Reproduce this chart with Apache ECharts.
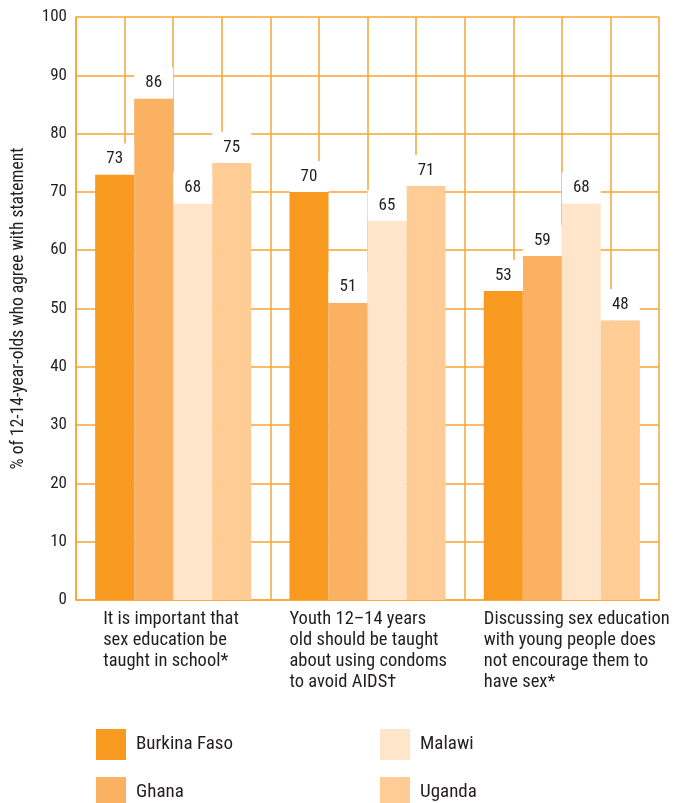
<!DOCTYPE html>
<html>
<head>
<meta charset="utf-8">
<script src="https://cdn.jsdelivr.net/npm/echarts@6/dist/echarts.min.js"></script>
<style>
  html, body { margin: 0; padding: 0; background: #fff; }
  #chart { width: 676px; height: 803px; }
</style>
</head>
<body>
<div id="chart"></div>
<script>
// Statements (x categories), split into display lines
const categories = [
  'It is important that\nsex education be\ntaught in school*',
  'Youth 12\u201314 years\nold should be taught\nabout using condoms\nto avoid AIDS\u2020',
  'Discussing sex education\nwith young people does\nnot encourage them to\nhave sex*'
];

// Percentage agreeing, per country
const burkinaFaso = [73, 70, 53];
const ghana       = [86, 51, 59];
const malawi      = [68, 65, 68];
const uganda      = [75, 71, 48];

const countries = ['Burkina Faso', 'Ghana', 'Malawi', 'Uganda'];
const countryValues = [burkinaFaso, ghana, malawi, uganda];
const countryColors = ['#F89A20', '#FAB262', '#FFE6CA', '#FECC94'];

const yTicks = { min: 0, max: 100, step: 10 };

const FONT = '"Liberation Sans Narrow", "Roboto Condensed", Roboto, sans-serif';
const TEXT = '#231f20';
const GRID = '#F6A634';

const chart = echarts.init(document.getElementById('chart'), null, { renderer: 'canvas' });

const series = countries.map((name, i) => ({
  name,
  type: 'bar',
  data: countryValues[i],
  itemStyle: { color: countryColors[i] },
  barGap: '0%',
  barCategoryGap: '19.7%',
  label: {
    show: true,
    position: 'top',
    distance: 0,
    backgroundColor: '#fff',
    width: 39,
    height: 31,
    lineHeight: 31,
    align: 'center',
    fontFamily: FONT,
    fontSize: 17,
    color: TEXT
  }
}));

// legend slots: two columns, two rows
const legendSlots = [
  { left: 96, top: 729 },
  { left: 96, top: 777 },
  { left: 380, top: 729 },
  { left: 380, top: 777 }
];

const legends = countries.map((name, i) => ({
  data: [name],
  left: legendSlots[i].left,
  top: legendSlots[i].top,
  padding: 0,
  itemWidth: 30, itemHeight: 31,
  icon: 'rect',
  selectedMode: false,
  textStyle: { fontFamily: FONT, fontSize: 19, color: TEXT, padding: [0, 0, 0, 5] }
}));

chart.setOption({
  animation: false,
  textStyle: { fontFamily: FONT },
  grid: { left: 76, right: 17, top: 17, bottom: 203, containLabel: false, outerBoundsMode: 'none' },
  legend: legends,
  xAxis: [
    {
      type: 'category',
      data: categories,
      axisLine: { lineStyle: { color: GRID, width: 1.5 } },
      axisTick: { show: false },
      axisLabel: {
        interval: 0,
        margin: 9,
        align: 'center',
        formatter: (value, index) =>
          value.split('\n').map(l => `{${index === 0 ? 'a' : 'b'}|${l}}`).join('\n'),
        rich: {
          a: { width: 140, align: 'left', fontFamily: FONT, fontSize: 18.5, lineHeight: 21, color: TEXT },
          b: { width: 156, align: 'left', fontFamily: FONT, fontSize: 18.5, lineHeight: 21, color: TEXT }
        }
      }
    },
    {
      // quarter-category vertical rules
      type: 'value',
      min: 0, max: 12, interval: 1,
      position: 'top',
      axisLine: { show: false },
      axisTick: { show: false },
      axisLabel: { show: false },
      splitLine: { show: true, lineStyle: { color: GRID, width: 1.5 } }
    }
  ],
  yAxis: {
    type: 'value',
    min: yTicks.min, max: yTicks.max, interval: yTicks.step,
    name: '% of 12-14-year-olds who agree with statement',
    nameLocation: 'middle',
    nameGap: 48,
    nameTextStyle: { fontFamily: FONT, fontSize: 17.5, color: TEXT },
    axisLine: { show: true, lineStyle: { color: GRID, width: 1.5 } },
    axisTick: { show: false },
    axisLabel: { margin: 9, fontFamily: FONT, fontSize: 17, color: TEXT },
    splitLine: { show: true, lineStyle: { color: GRID, width: 1.5 } }
  },
  series
});
</script>
</body>
</html>
